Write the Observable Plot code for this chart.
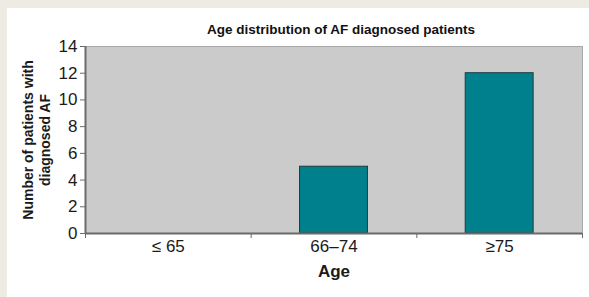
<!DOCTYPE html>
<html>
<head>
<meta charset="utf-8">
<script src="https://cdn.jsdelivr.net/npm/d3@7"></script>
<script src="https://cdn.jsdelivr.net/npm/@observablehq/plot@0.6"></script>
<style>
  html, body { margin: 0; padding: 0; }
  body { width: 589px; height: 297px; background: #eeece2; position: relative; overflow: hidden;
         font-family: Arial, "Liberation Sans", sans-serif; }
  #panel { position: absolute; left: 7px; top: 8px; width: 582px; height: 289px; background: #fff; }
  #title { position: absolute; left: 134px; top: 14px; width: 400px; text-align: center;
           font-weight: bold; font-size: 13.5px; line-height: 16px; color: #111; }
  #chart { position: absolute; left: 0; top: 0; }
</style>
</head>
<body>
<div id="panel">
  <div id="chart"></div>
  <div id="title">Age distribution of AF diagnosed patients</div>
</div>
<script>
const categories = ["≤ 65", "66–74", "≥75"];
const counts = [0, 5, 12];
const yTicks = [0, 2, 4, 6, 8, 10, 12, 14];
const yTitle = "Number of patients with\ndiagnosed AF";
const xTitle = "Age";

const data = categories.map((c, i) => ({category: c, index: i, count: counts[i]}));
const barWidth = 0.41;

const chart = Plot.plot({
  width: 582,
  height: 289,
  marginLeft: 78,
  marginRight: 7,
  marginTop: 38,
  marginBottom: 64,
  style: {fontFamily: "Arial, 'Liberation Sans', sans-serif", fontSize: "17px", color: "#1a1a1a", background: "transparent"},
  x: {domain: [0, categories.length], axis: null},
  y: {domain: [0, 14], axis: null},
  marks: [
    Plot.frame({fill: "#cbcbcb", stroke: "#a8a8a8"}),
    Plot.rectY(data.filter(d => d.count > 0), {
      x1: d => d.index + 0.5 - barWidth / 2,
      x2: d => d.index + 0.5 + barWidth / 2,
      y: "count",
      fill: "#00808d",
      stroke: "#1f3b3d",
      strokeWidth: 1
    }),
    Plot.ruleY([0], {stroke: "#6a6a6a", strokeWidth: 2}),
    Plot.ruleX([0], {stroke: "#6a6a6a", strokeWidth: 2}),
    Plot.axisY({ticks: yTicks, tickSize: 5, tickPadding: 3, fontSize: 17, label: null, stroke: "#6a6a6a"}),
    Plot.axisX({ticks: d3.range(categories.length + 1), tickSize: 5, tickFormat: () => "", label: null, stroke: "#6a6a6a"}),
    Plot.axisX({ticks: categories.map((c, i) => i + 0.5), tickSize: 0, tickPadding: 6, fontSize: 17,
                tickFormat: v => categories[Math.floor(v)], label: null}),
    Plot.text([xTitle], {frameAnchor: "bottom", lineAnchor: "top", dy: 31, fontSize: 17, fontWeight: "bold", text: d => d}),
    Plot.text([yTitle], {frameAnchor: "left", rotate: -90, dx: -49, textAnchor: "middle", lineAnchor: "middle", lineHeight: 1.2,
                         fontSize: 14, fontWeight: "bold", text: d => d})
  ]
});
d3.select(chart).selectAll('g[aria-label$="tick label"]').attr("font-size", 17).style("font-size", "17px");
document.getElementById("chart").appendChild(chart);
</script>
</body>
</html>
